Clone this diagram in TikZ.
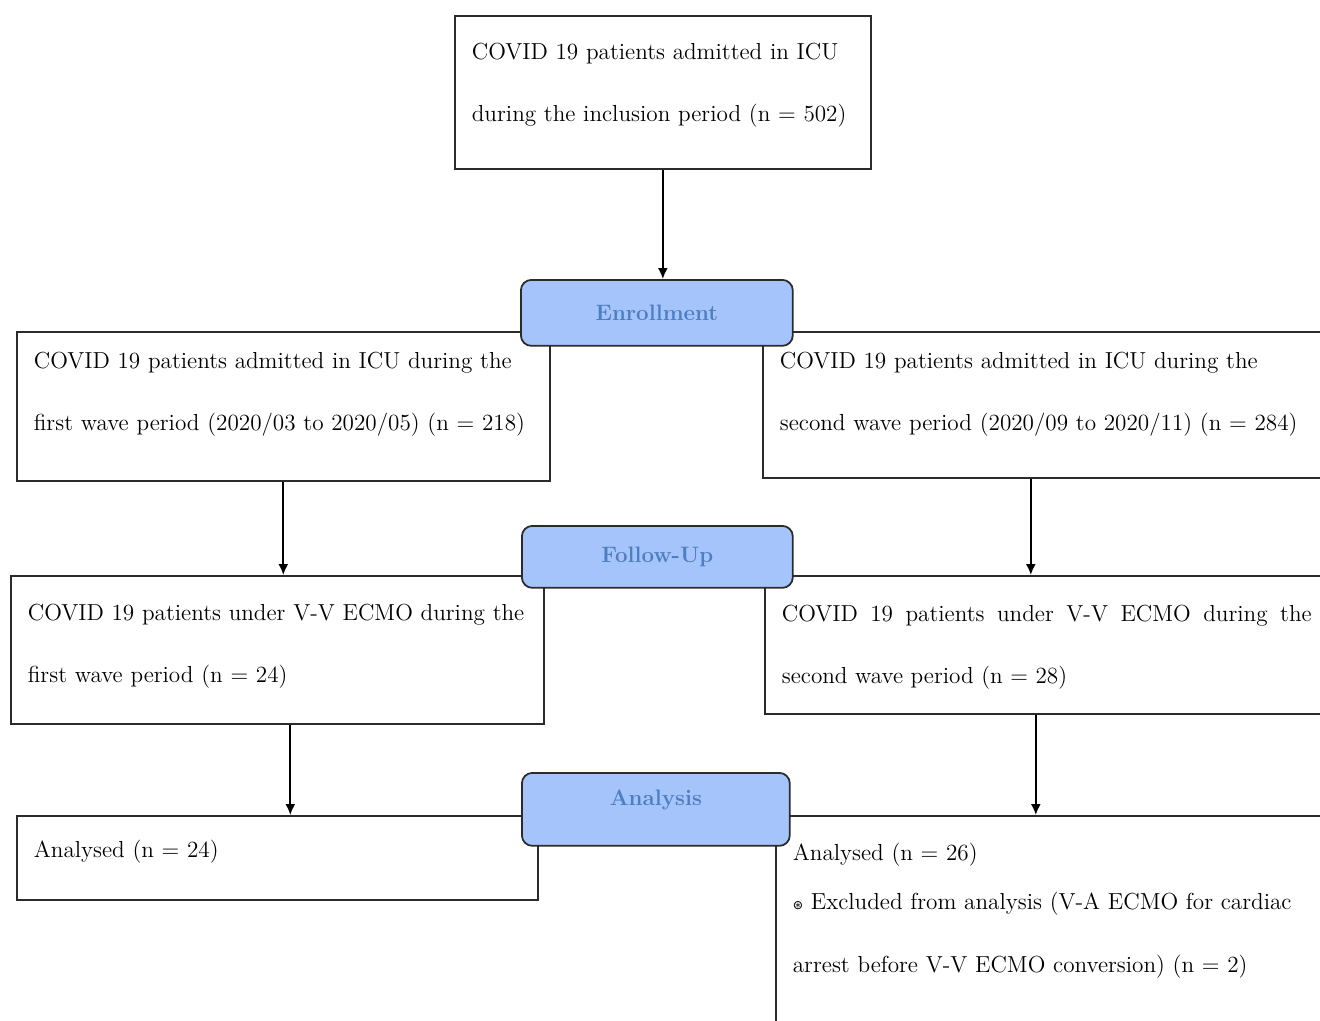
\documentclass[tikz,border=0pt]{standalone}
\usepackage{fontspec}
\newfontfamily\symfont{DejaVu Sans}
\usetikzlibrary{positioning,calc,arrows.meta}

\definecolor{phasefill}{HTML}{A6C4FC}
\definecolor{phasetext}{HTML}{4D7FC0}
\definecolor{boxline}{HTML}{2B2B2B}

\tikzset{
  basic/.style = {draw=boxline, line width=1pt, rectangle, inner sep=0pt},
  stage/.style = {basic, anchor=north west},
  phase/.style = {basic, anchor=north west, rounded corners=6pt, fill=phasefill,
                  text=phasetext, font=\bfseries\fontsize{12.7}{15}\selectfont},
  note/.style  = {inner sep=0pt, anchor=base west, align=left, text width=10.6cm,
                  font=\fontsize{13.2}{35.85}\selectfont}
}

\begin{document}
\begin{tikzpicture}[x=0.02cm, y=-0.02cm, >={Latex[length=0.22cm,width=0.2cm]}, line width=1pt]
\useasboundingbox (0,0) rectangle (1320,1021);
\clip (0,0) rectangle (1320,1021);

% The stage boxes, left column c1x and right column c2x
\node[stage, minimum width=8.32cm, minimum height=3.06cm] (c0) at (454,15) {};
\node[stage, minimum width=10.66cm, minimum height=2.98cm] (c11) at (16,331) {};
\node[stage, minimum width=11.56cm, minimum height=2.92cm] (c21) at (762,331) {};
\node[stage, minimum width=10.66cm, minimum height=2.96cm] (c12) at (10,575) {};
\node[stage, minimum width=11.52cm, minimum height=2.76cm] (c22) at (764,575) {};
\node[stage, minimum width=10.42cm, minimum height=1.68cm] (c13) at (16,815) {};
\node[stage, minimum width=11.3cm, minimum height=4.5cm] (c23) at (775,815) {};

% The texts inside the boxes
\node[note, text width=7.8cm] (c0t) at (471,59) {COVID 19 patients admitted in ICU\\during the inclusion period (n = 502)};
\node[note] (c11t) at (33,368) {COVID 19 patients admitted in ICU during the\\first wave period (2020/03 to 2020/05) (n = 218)};
\node[note] (c21t) at (779,368) {COVID 19 patients admitted in ICU during the\\second wave period (2020/09 to 2020/11) (n = 284)};
\node[note] (c12t) at (27,620) {COVID 19 patients under V-V ECMO during the\\first wave period (n = 24)};
\node[note, align=justify] (c22t) at (781,621) {COVID 19 patients under V-V ECMO during the\linebreak second wave period (n = 28)};
\node[note] (c13t) at (33,857) {Analysed (n = 24)};
\node[note] (c23t) at (792,860) {Analysed (n = 26)\\[-0.26cm]{\symfont\fontsize{7}{8}\selectfont ⊛} Excluded from analysis (V-A ECMO for cardiac\\arrest before V-V ECMO conversion) (n = 2)};

% The phase labels
\node[phase, minimum width=5.44cm, minimum height=1.32cm] (p1) at (520,279) {Enrollment};
\node[phase, minimum width=5.42cm, minimum height=1.24cm] (p2) at (521,525) {Follow-Up};
\node[phase, minimum width=5.36cm, minimum height=1.46cm, text depth=0.45cm] (p3) at (521,772) {Analysis};

\draw[->] (c0.south) -- (c0.south |- p1.north);
\draw[->] (c11.south) -- (c11.south |- c12.north);
\draw[->] ($(c21.south)+(-21,0)$) -- ($(c21.south |- c22.north)+(-21,0)$);
\draw[->] ($(c12.south)+(13,0)$) -- ($(c12.south |- c13.north)+(13,0)$);
\draw[->] ($(c22.south)+(-17,0)$) -- ($(c22.south |- c23.north)+(-17,0)$);

\end{tikzpicture}
\end{document}
